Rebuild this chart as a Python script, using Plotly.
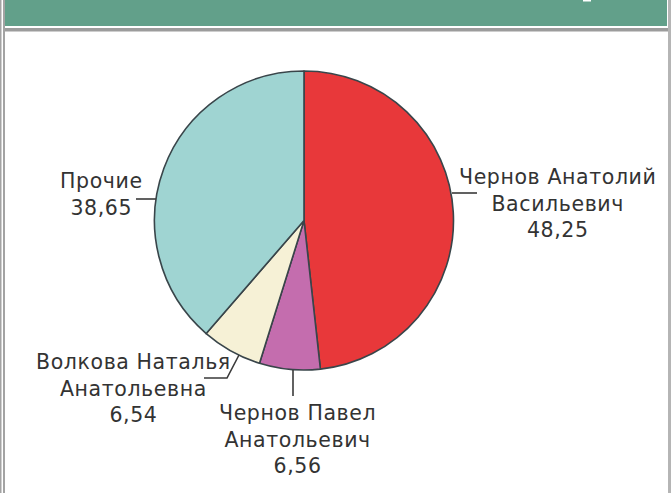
import plotly.graph_objects as go

# Shares of ownership, clockwise from 12 o'clock
names = ["Чернов Анатолий<br>Васильевич", "Чернов Павел<br>Анатольевич",
         "Волкова Наталья<br>Анатольевна", "Прочие"]
shares = [48.25, 6.56, 6.54, 38.65]
colors = ["#e8383a", "#c46dae", "#f6f1d6", "#9fd4d2"]

W, H = 671, 493


def px(x):
    return x / W


def py(y):
    return 1 - y / H


# pie placement in pixels
cx, cy, r = 304, 220.5, 149.5

fig = go.Figure(go.Pie(
    values=shares,
    labels=[n.replace("<br>", " ") for n in names],
    sort=False,
    direction="clockwise",
    rotation=0,
    marker=dict(colors=colors, line=dict(color="#39454a", width=1.6)),
    textinfo="none",
    hoverinfo="label+value",
    showlegend=False,
    domain=dict(x=[px(cx - r), px(cx + r)], y=[py(cy + r), py(cy - r)]),
))

# label anchor (center x, middle y) and leader polylines, in pixels
label_pos = [(557, 203), (297, 439), (133, 388), (101, 194)]
leaders = [
    [(452, 193), (477, 193)],
    [(293, 370), (293, 396)],
    [(239, 355), (227, 378), (204, 378)],
    [(156, 199), (136, 199)],
]


def fmt(v):
    return f"{v:.2f}".replace(".", ",")


def spaced(s):
    # wrap each line in a span with a little extra tracking
    return "<br>".join(f'<span style="letter-spacing:0.6px">{part}</span>'
                       for part in s.split("<br>"))


annotations = []
for name, val, (lx, ly) in zip(names, shares, label_pos):
    annotations.append(dict(
        x=px(lx), y=py(ly), xref="paper", yref="paper",
        text=spaced(f"{name}<br>{fmt(val)}"), showarrow=False,
        xanchor="center", yanchor="middle", align="center",
        font=dict(family="DejaVu Sans", size=20.5, color="#333333"),
    ))

shapes = []
for pts in leaders:
    path = "M " + " L ".join(f"{px(x)},{py(y)}" for x, y in pts)
    shapes.append(dict(type="path", path=path, xref="paper", yref="paper",
                       line=dict(color="#3a3a3a", width=1.6)))

# frame: green header band, gray rules and borders
border = "#a3a3a3"
shapes += [
    dict(type="rect", xref="paper", yref="paper", x0=px(5), x1=px(667),
         y0=py(26), y1=py(0), fillcolor="#62a08a", line=dict(width=0), layer="below"),
    dict(type="rect", xref="paper", yref="paper", x0=px(583), x1=px(591),
         y0=py(1.5), y1=py(0), fillcolor="#ffffff", line=dict(width=0)),
    dict(type="rect", xref="paper", yref="paper", x0=px(5), x1=px(671),
         y0=py(31.5), y1=py(28), fillcolor="#9c9c9c", line=dict(width=0)),
    dict(type="rect", xref="paper", yref="paper", x0=px(0), x1=px(1.5),
         y0=0, y1=1, fillcolor=border, line=dict(width=0)),
    dict(type="rect", xref="paper", yref="paper", x0=px(3), x1=px(5),
         y0=0, y1=1, fillcolor=border, line=dict(width=0)),
    dict(type="rect", xref="paper", yref="paper", x0=px(668), x1=px(671),
         y0=0, y1=1, fillcolor="#b5b5b5", line=dict(width=0)),
]

fig.update_layout(
    width=W, height=H,
    margin=dict(l=0, r=0, t=0, b=0),
    paper_bgcolor="#ffffff",
    plot_bgcolor="#ffffff",
    annotations=annotations,
    shapes=shapes,
)

fig.write_html("out.html")
